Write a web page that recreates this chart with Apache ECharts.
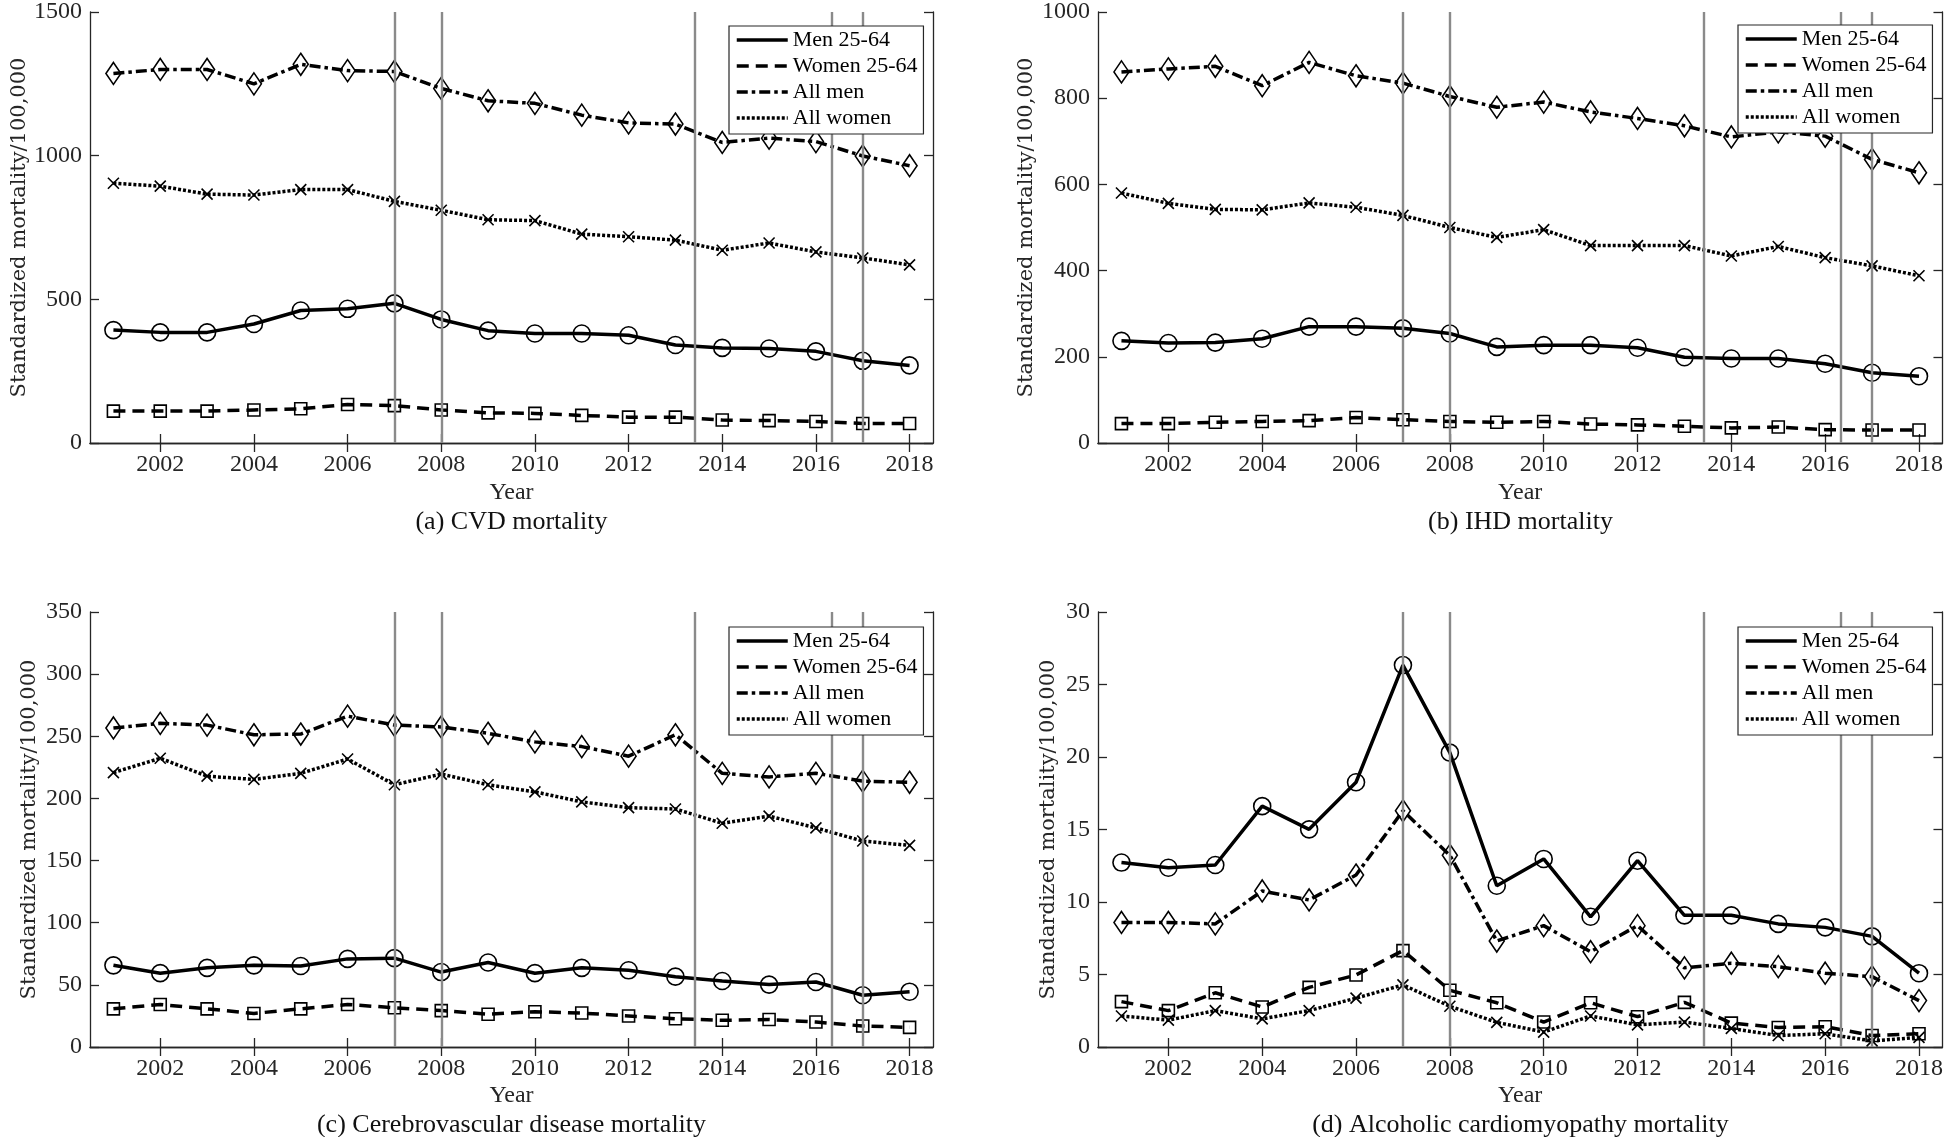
<!DOCTYPE html>
<html><head><meta charset="utf-8">
<script src="https://cdn.jsdelivr.net/npm/echarts@6/dist/echarts.min.js"></script>
<style>html,body{margin:0;padding:0;background:#fff}#c{width:1946px;height:1137px}</style>
</head><body><div id="c"></div>
<script>
// ---------- data ----------
const years = [2001,2002,2003,2004,2005,2006,2007,2008,2009,2010,2011,2012,2013,2014,2015,2016,2017,2018];
const xTickValues = [2002,2004,2006,2008,2010,2012,2014,2016,2018];
const eventYears = [2007, 2008, 2013.42, 2016.33, 2017];
const seriesNames = ['Men 25-64', 'Women 25-64', 'All men', 'All women'];
const captions = ['(a) CVD mortality', '(b) IHD mortality', '(c) Cerebrovascular disease mortality', '(d) Alcoholic cardiomyopathy mortality'];
const yAxisName = 'Standardized mortality/100,000';
const xAxisName = 'Year';
const yMaxes = [1500, 1000, 350, 30];
const ySteps = [500, 200, 50, 5];

// (a) CVD
const cvdMen2564   = [393, 385, 385, 414, 461, 467, 486, 430, 391, 381, 381, 375, 341, 331, 329, 319, 286, 270];
const cvdWomen2564 = [111, 111, 111, 115, 119, 134, 130, 115, 105, 103, 96, 90, 90, 80, 78, 75, 68, 68];
const cvdAllMen    = [1286, 1300, 1300, 1250, 1318, 1296, 1293, 1234, 1191, 1182, 1141, 1114, 1110, 1046, 1061, 1049, 999, 965];
const cvdAllWomen  = [904, 894, 866, 863, 882, 882, 841, 810, 777, 774, 727, 718, 706, 671, 696, 665, 644, 620];
// (b) IHD
const ihdMen2564   = [237, 232, 233, 242, 270, 270, 266, 254, 223, 227, 227, 221, 199, 196, 196, 184, 163, 155];
const ihdWomen2564 = [45, 45, 48, 50, 52, 59, 54, 50, 48, 50, 44, 42, 39, 35, 37, 31, 30, 30];
const ihdAllMen    = [861, 868, 874, 829, 883, 852, 835, 804, 779, 791, 768, 753, 736, 710, 722, 712, 658, 627];
const ihdAllWomen  = [580, 556, 542, 541, 557, 547, 528, 500, 477, 495, 458, 458, 458, 434, 456, 430, 411, 388];
// (c) Cerebrovascular
const cbvMen2564   = [65.7, 59.4, 63.7, 65.7, 65.2, 70.9, 71.5, 60.3, 68.0, 59.4, 63.7, 61.7, 56.6, 53.1, 50.2, 52.3, 41.6, 44.5];
const cbvWomen2564 = [30.7, 34.2, 30.7, 27.0, 30.7, 34.2, 31.6, 29.3, 26.4, 28.4, 27.3, 25.0, 22.7, 21.5, 22.1, 20.1, 16.9, 15.8];
const cbvAllMen    = [256.7, 260.4, 259.0, 251.2, 251.8, 266.2, 259.0, 257.5, 252.4, 245.5, 241.7, 234.0, 251.2, 220.2, 217.3, 220.2, 213.9, 213.0];
const cbvAllWomen  = [220.8, 232.3, 217.9, 215.3, 220.2, 231.7, 211.0, 219.6, 211.0, 205.3, 197.2, 192.6, 191.5, 180.0, 185.8, 176.3, 165.7, 162.2];
// (d) Alcoholic cardiomyopathy
const acmMen2564   = [12.72, 12.36, 12.55, 16.61, 15.01, 18.26, 26.34, 20.30, 11.12, 12.97, 8.98, 12.85, 9.08, 9.08, 8.49, 8.25, 7.63, 5.09];
const acmWomen2564 = [3.13, 2.51, 3.74, 2.76, 4.11, 4.97, 6.65, 3.91, 3.05, 1.72, 3.05, 2.09, 3.08, 1.65, 1.35, 1.40, 0.79, 0.91];
const acmAllMen    = [8.59, 8.59, 8.49, 10.76, 10.14, 11.86, 16.29, 13.22, 7.31, 8.37, 6.57, 8.37, 5.46, 5.78, 5.54, 5.09, 4.85, 3.20];
const acmAllWomen  = [2.14, 1.85, 2.51, 1.94, 2.51, 3.37, 4.28, 2.81, 1.70, 1.03, 2.14, 1.53, 1.72, 1.28, 0.79, 0.91, 0.42, 0.66];

const panels = [
  [cvdMen2564, cvdWomen2564, cvdAllMen, cvdAllWomen],
  [ihdMen2564, ihdWomen2564, ihdAllMen, ihdAllWomen],
  [cbvMen2564, cbvWomen2564, cbvAllMen, cbvAllWomen],
  [acmMen2564, acmWomen2564, acmAllMen, acmAllWomen]
];

// ---------- layout / style ----------
const grids = [
  {left: 90,   top: 11,  width: 843, height: 432},
  {left: 1098, top: 11,  width: 845, height: 432},
  {left: 90,   top: 612, width: 843, height: 435},
  {left: 1098, top: 612, width: 845, height: 435}
];
const legendPos = [[729, 26], [1738, 25], [729, 627], [1738, 627]];
const yNameGaps = [60, 61, 50, 39];
const captionY = [522, 522, 1125, 1125];
const serif = 'Liberation Serif';
const axisColor = '#262626';
const lineW = 3.5;

const markerStyles = [
  {symbol: 'circle', symbolSize: 17, line: 'solid'},
  {symbol: 'rect', symbolSize: 12, line: [12, 7]},
  {symbol: 'diamond', symbolSize: [15, 22], line: [11, 4, 3.5, 4]},
  {symbol: 'path://M0,0L10,10M10,0L0,10', symbolSize: 11, line: [3, 2]}
];

const xAxes = [], yAxes = [], series = [], legends = [], graphics = [];
grids.forEach((g, i) => {
  const axisLine = {show: true, lineStyle: {color: axisColor, width: 1.3}};
  const tick = {show: true, inside: true, length: 9, lineStyle: {color: axisColor, width: 1.3}};
  xAxes.push({
    gridIndex: i, type: 'value', min: 2000.5, max: 2018.5, position: 'bottom',
    axisLine, splitLine: {show: false},
    axisTick: Object.assign({customValues: xTickValues}, tick),
    axisLabel: {show: true, customValues: xTickValues, formatter: v => String(v), fontFamily: serif, fontSize: 24, color: axisColor, margin: 10},
    name: xAxisName, nameLocation: 'middle', nameGap: i < 2 ? 38 : 37,
    nameTextStyle: {fontFamily: serif, fontSize: 24, color: axisColor}
  });
  xAxes.push({
    gridIndex: i, type: 'value', min: 2000.5, max: 2018.5, position: 'top',
    axisLine, splitLine: {show: false},
    axisTick: Object.assign({customValues: xTickValues}, tick),
    axisLabel: {show: false}
  });
  yAxes.push({
    gridIndex: i, type: 'value', min: 0, max: yMaxes[i], interval: ySteps[i], position: 'left',
    axisLine, splitLine: {show: false}, axisTick: tick,
    axisLabel: {formatter: v => String(v), fontFamily: serif, fontSize: 24, color: axisColor, margin: 8},
    name: yAxisName, nameLocation: 'middle', nameGap: yNameGaps[i],
    nameTextStyle: {fontFamily: 'DejaVu Serif', fontSize: 21, color: axisColor}
  });
  yAxes.push({
    gridIndex: i, type: 'value', min: 0, max: yMaxes[i], interval: ySteps[i], position: 'right',
    axisLine, splitLine: {show: false}, axisTick: tick,
    axisLabel: {show: false}
  });
  panels[i].forEach((vals, k) => {
    const st = markerStyles[k];
    const s = {
      type: 'line', name: seriesNames[k], xAxisIndex: 2 * i, yAxisIndex: 2 * i,
      data: years.map((y, j) => [y, vals[j]]),
      symbol: st.symbol, symbolSize: st.symbolSize, showAllSymbol: true,
      itemStyle: {color: 'rgba(0,0,0,0)', borderColor: '#000', borderWidth: 1.6},
      lineStyle: {color: '#000', width: lineW, type: st.line},
      emphasis: {disabled: true}, animation: false, z: 3
    };
    if (k === 3) {
      s.markLine = {
        silent: true, symbol: ['none', 'none'], label: {show: false},
        lineStyle: {color: '#8a8a8a', width: 2.4, type: 'solid'},
        emphasis: {disabled: true},
        data: eventYears.map(v => ({xAxis: v}))
      };
    }
    series.push(s);
  });
  legends.push({
    orient: 'vertical', left: legendPos[i][0], top: legendPos[i][1],
    itemWidth: 51, itemHeight: 14, itemGap: 4, padding: [3, 6, 5, 6],
    backgroundColor: '#fff', borderColor: axisColor, borderWidth: 1.2, borderRadius: 0,
    textStyle: {fontFamily: serif, fontSize: 22, color: '#000', lineHeight: 22},
    itemStyle: {opacity: 0}, lineStyle: {width: lineW},
    selectedMode: false, data: seriesNames, z: 10
  });
  graphics.push({
    type: 'text', x: g.left + g.width / 2, y: captionY[i], silent: true,
    style: {text: captions[i], font: '26px "Liberation Serif"', fill: '#111',
      align: 'center', verticalAlign: 'middle', textAlign: 'center', textVerticalAlign: 'middle'}
  });
});

const chart = echarts.init(document.getElementById('c'), null, {renderer: 'canvas'});
chart.setOption({
  animation: false,
  backgroundColor: '#fff',
  grid: grids.map(g => Object.assign({containLabel: false}, g)),
  xAxis: xAxes, yAxis: yAxes, series, legend: legends, graphic: graphics
});
</script></body></html>
